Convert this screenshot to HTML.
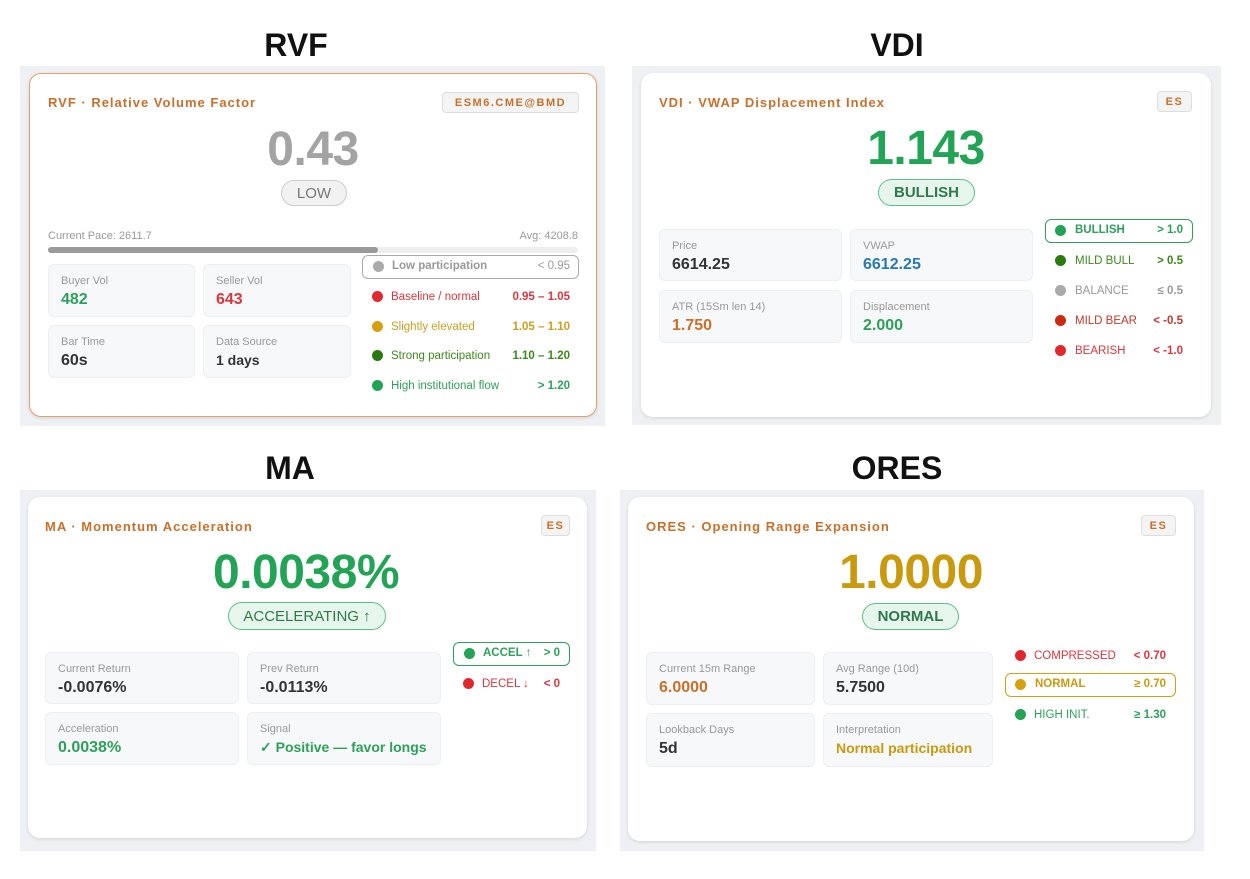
<!DOCTYPE html>
<html><head><meta charset="utf-8"><style>
*{margin:0;padding:0;box-sizing:border-box}
body{width:1250px;height:879px;background:#fff;font-family:"Liberation Sans",Arial,sans-serif;position:relative;overflow:hidden}
.a{position:absolute}
.h{position:absolute;font-weight:bold;font-size:32px;color:#111;transform:translateX(-50%);top:27px}
.bg{position:absolute;background:#eef0f3}
.card{position:absolute;background:#fff;border-radius:12px;box-shadow:0 1px 3px rgba(0,0,0,.12)}
.t{position:absolute;font-size:13px;font-weight:bold;color:#c8702a;letter-spacing:1px;white-space:nowrap}
.badge{position:absolute;border:1px solid #ddd;background:#f4f4f4;border-radius:4px;font-size:11px;font-weight:bold;color:#c8702a;letter-spacing:1.5px;text-align:center;display:flex;align-items:center;justify-content:center}
.val{position:absolute;font-size:48px;font-weight:bold;transform:translateX(-50%);line-height:48px;white-space:nowrap;letter-spacing:-0.5px}
.pill{position:absolute;border-radius:14px;font-size:15px;font-weight:bold;display:flex;align-items:center;justify-content:center}
.sb{position:absolute;background:#f7f8fa;border:1px solid #eceef1;border-radius:6px}
.sb .l{position:absolute;left:12px;top:10px;font-size:11px;color:#999;white-space:nowrap}
.sb .v{position:absolute;left:12px;top:26px;font-size:16px;font-weight:bold;color:#333;white-space:nowrap}
.lg{position:absolute;font-size:11.5px;white-space:nowrap;height:24px;line-height:24px}
.lg .d{position:absolute;width:11px;height:11px;border-radius:50%;top:6px}
.lg .r{position:absolute;font-weight:bold}
.box{border:1.5px solid;border-radius:6px}
</style></head><body>
<div class="h" style="left:296px">RVF</div>
<div class="h" style="left:897px">VDI</div>
<div class="h" style="left:290px;top:450px">MA</div>
<div class="h" style="left:897px;top:450px">ORES</div>

<div class="bg" style="left:20px;top:66px;width:585px;height:360px"></div>
<div class="bg" style="left:632px;top:66px;width:589px;height:359px"></div>
<div class="bg" style="left:20px;top:490px;width:576px;height:361px"></div>
<div class="bg" style="left:620px;top:490px;width:584px;height:361px"></div>

<!-- RVF -->
<div class="card" style="left:29px;top:73px;width:568px;height:344px;border:1.5px solid #e0a36a"></div>
<div class="t" style="left:48px;top:95px">RVF · Relative Volume Factor</div>
<div class="badge" style="left:442px;top:92px;width:137px;height:21px">ESM6.CME@BMD</div>
<div class="val" style="left:313px;top:126px;color:#a3a3a3">0.43</div>
<div class="pill" style="left:281px;top:180px;width:66px;height:26px;border:1.5px solid #ccc;background:#f2f2f2;color:#777;font-weight:normal">LOW</div>
<div class="a" style="left:48px;top:230px;font-size:11px;color:#999">Current Pace: 2611.7</div>
<div class="a" style="left:478px;width:100px;text-align:right;top:230px;font-size:11px;color:#999">Avg: 4208.8</div>
<div class="a" style="left:48px;top:247px;width:530px;height:6px;border-radius:3px;background:#eee"></div>
<div class="a" style="left:48px;top:247px;width:330px;height:6px;border-radius:3px;background:#9a9a9a"></div>
<div class="sb" style="left:48px;top:264px;width:147px;height:53px"><div class="l">Buyer Vol</div><div class="v" style="color:#2ea05a">482</div></div>
<div class="sb" style="left:203px;top:264px;width:148px;height:53px"><div class="l">Seller Vol</div><div class="v" style="color:#d9363e">643</div></div>
<div class="sb" style="left:48px;top:325px;width:147px;height:53px"><div class="l">Bar Time</div><div class="v">60s</div></div>
<div class="sb" style="left:203px;top:325px;width:148px;height:53px"><div class="l">Data Source</div><div class="v" style="font-size:14px">1 days</div></div>
<div class="lg box" style="left:362px;top:255px;width:217px;border-color:#aaa;color:#999;font-weight:bold;line-height:21px"><span class="d" style="left:10px;top:5px;background:#aaa"></span><span class="a" style="left:29px">Low participation</span><span class="r" style="right:8px;font-weight:normal">&lt; 0.95</span></div>
<div class="lg" style="left:362px;top:285px;width:217px;color:#d9363e"><span class="d" style="left:10px;background:#e0282e"></span><span class="a" style="left:29px">Baseline / normal</span><span class="r" style="right:9px">0.95 – 1.05</span></div>
<div class="lg" style="left:362px;top:315px;width:217px;color:#c9a020"><span class="d" style="left:10px;background:#d4a010"></span><span class="a" style="left:29px">Slightly elevated</span><span class="r" style="right:9px">1.05 – 1.10</span></div>
<div class="lg" style="left:362px;top:344px;width:217px;color:#3a8a1a"><span class="d" style="left:10px;background:#2a7a10"></span><span class="a" style="left:29px">Strong participation</span><span class="r" style="right:9px">1.10 – 1.20</span></div>
<div class="lg" style="left:362px;top:374px;width:217px;color:#2ea05a"><span class="d" style="left:10px;background:#22a355"></span><span class="a" style="left:29px">High institutional flow</span><span class="r" style="right:9px">&gt; 1.20</span></div>

<!-- VDI -->
<div class="card" style="left:641px;top:73px;width:570px;height:344px"></div>
<div class="t" style="left:659px;top:95px">VDI · VWAP Displacement Index</div>
<div class="badge" style="left:1157px;top:91px;width:35px;height:21px">ES</div>
<div class="val" style="left:926px;top:125px;color:#22a355">1.143</div>
<div class="pill" style="left:878px;top:179px;width:97px;height:27px;border:1.5px solid #5cc088;background:#e6f6ec;color:#2f7a4a">BULLISH</div>
<div class="sb" style="left:659px;top:229px;width:183px;height:52px"><div class="l">Price</div><div class="v">6614.25</div></div>
<div class="sb" style="left:850px;top:229px;width:183px;height:52px"><div class="l">VWAP</div><div class="v" style="color:#2a78b0">6612.25</div></div>
<div class="sb" style="left:659px;top:290px;width:183px;height:53px"><div class="l">ATR (15Sm len 14)</div><div class="v" style="color:#c8702a">1.750</div></div>
<div class="sb" style="left:850px;top:290px;width:183px;height:53px"><div class="l">Displacement</div><div class="v" style="color:#2ea05a">2.000</div></div>
<div class="lg box" style="left:1045px;top:219px;width:148px;border-color:#2ea05a;color:#2ea05a;font-weight:bold;line-height:21px"><span class="d" style="left:9px;top:5px;background:#22a355"></span><span class="a" style="left:29px">BULLISH</span><span class="r" style="right:9px">&gt; 1.0</span></div>
<div class="lg" style="left:1045px;top:249px;width:148px;color:#3a8a1a"><span class="d" style="left:10px;background:#2a7a10"></span><span class="a" style="left:30px">MILD BULL</span><span class="r" style="right:10px">&gt; 0.5</span></div>
<div class="lg" style="left:1045px;top:279px;width:148px;color:#999"><span class="d" style="left:10px;background:#aaa"></span><span class="a" style="left:30px">BALANCE</span><span class="r" style="right:10px">≤ 0.5</span></div>
<div class="lg" style="left:1045px;top:309px;width:148px;color:#c0392b"><span class="d" style="left:10px;background:#cc2a10"></span><span class="a" style="left:30px">MILD BEAR</span><span class="r" style="right:10px">&lt; -0.5</span></div>
<div class="lg" style="left:1045px;top:339px;width:148px;color:#d9363e"><span class="d" style="left:10px;background:#e0282e"></span><span class="a" style="left:30px">BEARISH</span><span class="r" style="right:10px">&lt; -1.0</span></div>

<!-- MA -->
<div class="card" style="left:28px;top:497px;width:559px;height:341px"></div>
<div class="t" style="left:45px;top:519px">MA · Momentum Acceleration</div>
<div class="badge" style="left:541px;top:515px;width:29px;height:21px">ES</div>
<div class="val" style="left:306px;top:549px;color:#22a355">0.0038%</div>
<div class="pill" style="left:228px;top:602px;width:158px;height:28px;border:1.5px solid #5cc088;background:#e6f6ec;color:#2f7a4a;font-weight:normal">ACCELERATING ↑</div>
<div class="sb" style="left:45px;top:652px;width:194px;height:52px"><div class="l">Current Return</div><div class="v">-0.0076%</div></div>
<div class="sb" style="left:247px;top:652px;width:194px;height:52px"><div class="l">Prev Return</div><div class="v">-0.0113%</div></div>
<div class="sb" style="left:45px;top:712px;width:194px;height:53px"><div class="l">Acceleration</div><div class="v" style="color:#2ea05a">0.0038%</div></div>
<div class="sb" style="left:247px;top:712px;width:194px;height:53px"><div class="l">Signal</div><div class="v" style="color:#2ea05a;font-size:14px">✓ Positive — favor longs</div></div>
<div class="lg box" style="left:453px;top:642px;width:117px;border-color:#2ea05a;color:#2ea05a;font-weight:bold;line-height:21px"><span class="d" style="left:10px;top:5px;background:#22a355"></span><span class="a" style="left:29px">ACCEL ↑</span><span class="r" style="right:9px">&gt; 0</span></div>
<div class="lg" style="left:453px;top:672px;width:117px;color:#d9363e"><span class="d" style="left:10px;background:#e0282e"></span><span class="a" style="left:29px">DECEL ↓</span><span class="r" style="right:10px">&lt; 0</span></div>

<!-- ORES -->
<div class="card" style="left:628px;top:497px;width:566px;height:344px"></div>
<div class="t" style="left:646px;top:519px">ORES · Opening Range Expansion</div>
<div class="badge" style="left:1141px;top:515px;width:35px;height:21px">ES</div>
<div class="val" style="left:911px;top:549px;color:#c99a0e">1.0000</div>
<div class="pill" style="left:862px;top:603px;width:97px;height:27px;border:1.5px solid #5cc088;background:#e6f6ec;color:#2f7a4a">NORMAL</div>
<div class="sb" style="left:646px;top:652px;width:169px;height:53px"><div class="l">Current 15m Range</div><div class="v" style="color:#c8702a">6.0000</div></div>
<div class="sb" style="left:823px;top:652px;width:170px;height:53px"><div class="l">Avg Range (10d)</div><div class="v">5.7500</div></div>
<div class="sb" style="left:646px;top:713px;width:169px;height:54px"><div class="l">Lookback Days</div><div class="v">5d</div></div>
<div class="sb" style="left:823px;top:713px;width:170px;height:54px"><div class="l">Interpretation</div><div class="v" style="color:#c99a0e;font-size:14px">Normal participation</div></div>
<div class="lg" style="left:1005px;top:644px;width:171px;color:#d9363e"><span class="d" style="left:10px;background:#e0282e"></span><span class="a" style="left:29px">COMPRESSED</span><span class="r" style="right:10px">&lt; 0.70</span></div>
<div class="lg box" style="left:1005px;top:673px;width:171px;border-color:#d4a010;color:#c99a0e;font-weight:bold;line-height:21px"><span class="d" style="left:9px;top:5px;background:#d4a010"></span><span class="a" style="left:29px">NORMAL</span><span class="r" style="right:9px">≥ 0.70</span></div>
<div class="lg" style="left:1005px;top:703px;width:171px;color:#2ea05a"><span class="d" style="left:10px;background:#22a355"></span><span class="a" style="left:29px">HIGH INIT.</span><span class="r" style="right:10px">≥ 1.30</span></div>
</body></html>
